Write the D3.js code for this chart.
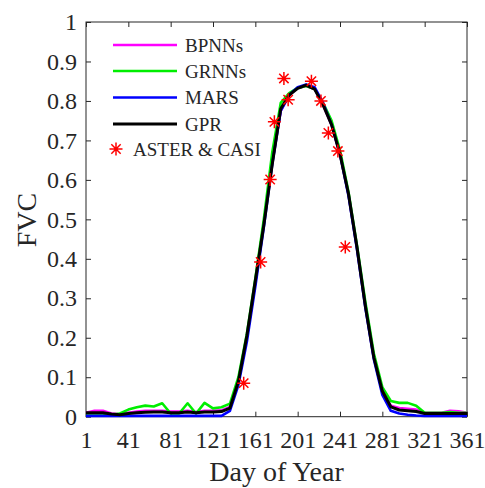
<!DOCTYPE html>
<html><head><meta charset="utf-8">
<script src="https://cdn.jsdelivr.net/npm/d3@7"></script>
<style>body{margin:0;background:#fff;}svg{display:block;}text{font-family:"Liberation Serif","Times New Roman",serif;fill:#262626;}</style>
</head><body><svg id="c" width="485" height="488"></svg>
<script>
const days = [1,9,17,25,33,41,49,57,65,73,81,89,97,105,113,121,129,137,145,153,161,169,177,185,193,201,209,217,225,233,241,249,257,265,273,281,289,297,305,313,321,329,337,345,353,361];
const bpnns = [0.010,0.015,0.015,0.008,0.006,0.010,0.013,0.015,0.015,0.015,0.013,0.013,0.015,0.012,0.015,0.015,0.016,0.025,0.090,0.200,0.340,0.490,0.645,0.775,0.815,0.833,0.838,0.830,0.790,0.740,0.665,0.565,0.430,0.280,0.150,0.065,0.028,0.022,0.020,0.018,0.010,0.010,0.010,0.015,0.014,0.010];
const grnns = [0.008,0.008,0.008,0.005,0.008,0.018,0.024,0.028,0.026,0.034,0.008,0.008,0.034,0.008,0.035,0.021,0.024,0.033,0.100,0.210,0.350,0.500,0.670,0.795,0.820,0.833,0.838,0.830,0.795,0.750,0.675,0.570,0.435,0.290,0.160,0.075,0.040,0.035,0.035,0.028,0.010,0.010,0.010,0.012,0.010,0.010];
const mars = [0.002,0.002,0.002,0.002,0.002,0.002,0.002,0.002,0.002,0.002,0.002,0.002,0.002,0.002,0.002,0.002,0.002,0.015,0.080,0.190,0.330,0.480,0.640,0.775,0.815,0.835,0.842,0.835,0.795,0.740,0.665,0.560,0.425,0.275,0.145,0.055,0.015,0.008,0.005,0.003,0.002,0.002,0.002,0.002,0.002,0.002];
const gpr = [0.010,0.010,0.010,0.007,0.005,0.008,0.010,0.011,0.012,0.012,0.010,0.010,0.012,0.010,0.012,0.012,0.013,0.022,0.090,0.205,0.345,0.485,0.640,0.780,0.815,0.832,0.840,0.830,0.790,0.740,0.665,0.565,0.430,0.280,0.150,0.065,0.025,0.017,0.015,0.013,0.008,0.008,0.008,0.008,0.008,0.008];
const obsDays = [150,166,175,179,188,192,214,223,230,239,246];
const obsFVC = [0.085,0.392,0.601,0.747,0.857,0.803,0.850,0.800,0.719,0.673,0.430];
const xTicks = [1,41,81,121,161,201,241,281,321,361];
const yTicks = [0,0.1,0.2,0.3,0.4,0.5,0.6,0.7,0.8,0.9,1];
const seriesNames = ["BPNNs","GRNNs","MARS","GPR"];
const seriesColors = ["#ff00ff","#00ee00","#0000ff","#000000"];
const obsName = "ASTER & CASI";

const svg = d3.select("#c");
const L=86, R=467, T=22, B=416.7;
const x = d3.scaleLinear().domain([1,361]).range([L,R]);
const y = d3.scaleLinear().domain([0,1]).range([B,T]);
const axCol = "#262626";

// axes
const fmt = d => d===0||d===1 ? String(d) : d3.format(".1f")(d);
const gx = svg.append("g").attr("transform",`translate(0,${B})`)
  .call(d3.axisBottom(x).tickValues(xTicks).tickSizeInner(-5).tickSizeOuter(0).tickPadding(14));
const gy = svg.append("g").attr("transform",`translate(${L},0)`)
  .call(d3.axisLeft(y).tickValues(yTicks).tickFormat(fmt).tickSizeInner(-5).tickSizeOuter(0).tickPadding(9));
const gt = svg.append("g").attr("transform",`translate(0,${T})`)
  .call(d3.axisTop(x).tickValues(xTicks).tickSizeInner(-5).tickSizeOuter(0).tickFormat(""));
const gr = svg.append("g").attr("transform",`translate(${R},0)`)
  .call(d3.axisRight(y).tickValues(yTicks).tickSizeInner(-5).tickSizeOuter(0).tickFormat(""));
[gx,gy,gt,gr].forEach(g=>{
  g.select(".domain").remove();
  g.selectAll(".tick line").attr("stroke",axCol).attr("stroke-width",1);
  g.selectAll("text").attr("font-size",24).attr("fill",axCol).style("font-family","'Liberation Serif',serif");
});
gx.selectAll("text").attr("dy","0.71em");
svg.append("rect").attr("x",L).attr("y",T).attr("width",R-L).attr("height",B-T)
  .attr("fill","none").attr("stroke",axCol).attr("stroke-width",1);

// lines
const allSeries = [bpnns,grnns,mars,gpr];
const line = d3.line().x((d,i)=>x(days[i])).y(d=>y(d));
allSeries.forEach((s,k)=>{
  svg.append("path").datum(s).attr("d",line).attr("fill","none")
    .attr("stroke",seriesColors[k]).attr("stroke-width",k===3?3:2.6).attr("stroke-linejoin","round");
});

// asterisk markers
function star(g,cx,cy,r){
  const a=r*0.72;
  g.append("path").attr("d",`M${cx-r},${cy}L${cx+r},${cy}M${cx},${cy-r}L${cx},${cy+r}M${cx-a},${cy-a}L${cx+a},${cy+a}M${cx-a},${cy+a}L${cx+a},${cy-a}`)
    .attr("stroke","#ff0000").attr("stroke-width",1.5).attr("fill","none");
}
const sg = svg.append("g");
obsDays.forEach((d,i)=>star(sg,x(d),y(obsFVC[i]),6.5));

// legend
const lg = svg.append("g");
lg.append("rect").attr("x",104).attr("y",33).attr("width",160).attr("height",128).attr("fill","#fff");
const rowsY=[45,71,97.5,124];
seriesNames.forEach((n,k)=>{
  lg.append("line").attr("x1",113).attr("x2",177).attr("y1",rowsY[k]).attr("y2",rowsY[k])
    .attr("stroke",seriesColors[k]).attr("stroke-width",k===3?3:2.6);
  lg.append("text").attr("x",185).attr("y",rowsY[k]).attr("dy","0.35em").attr("font-size",19).attr("fill","#000").text(n);
});
star(lg,116,149,6.5);
lg.append("text").attr("x",133).attr("y",149).attr("dy","0.35em").attr("font-size",19).attr("fill","#000").text(obsName);

// axis labels
svg.append("text").attr("x",(L+R)/2).attr("y",481).attr("text-anchor","middle").attr("font-size",28).attr("fill",axCol).text("Day of Year");
svg.append("text").attr("transform",`translate(36,220) rotate(-90)`).attr("text-anchor","middle").attr("font-size",28).attr("fill",axCol).text("FVC");
</script></body></html>
